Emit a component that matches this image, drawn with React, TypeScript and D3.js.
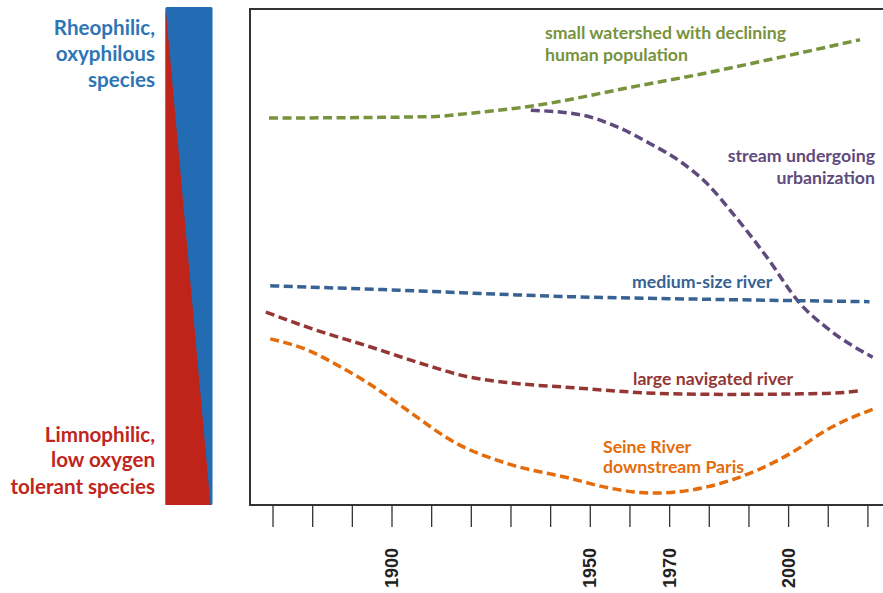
import React from "react";
import * as d3 from "d3";

// ---- data ----
const tickYears = [1870, 1880, 1890, 1900, 1910, 1920, 1930, 1940, 1950, 1960, 1970, 1980, 1990, 2000, 2010, 2020];
const labeledYears = [1900, 1950, 1970, 2000];

const greenYears = [1869, 1910, 1920, 1935, 1962, 1978, 1994, 2018];
const greenVals = [78.0, 78.3, 79.0, 80.4, 84.5, 86.9, 89.6, 93.8];

const purpleYears = [1935, 1948, 1956.6, 1965, 1973.3, 1979.3, 1985.9, 1994.4, 2002.8, 2010.3, 2021.2];
const purpleVals = [79.6, 78.6, 76.3, 72.9, 68.9, 64.9, 58.8, 50.1, 40.7, 35.3, 29.8];

const blueYears = [1869.3, 1902, 1944.8, 1977.6, 2020.4];
const blueVals = [44.2, 43.3, 42.0, 41.5, 41.0];

const redYears = [1868.2, 1878.5, 1895.2, 1908.7, 1918.8, 1928.9, 1944.8, 1967.5, 1984.3, 2009.5, 2017.9];
const redVals = [38.9, 35.9, 31.7, 28.2, 25.9, 24.7, 23.7, 22.5, 22.3, 22.5, 23.0];

const orangeYears = [1869.3, 1878.5, 1886.9, 1895.3, 1903.7, 1916.3, 1928.9, 1944.8, 1954.9, 1965.8, 1979.7, 1992.3, 2001.1, 2009.5, 2021.2];
const orangeVals = [33.5, 31.3, 27.9, 23.9, 19.2, 12.4, 8.4, 5.4, 3.4, 2.4, 3.7, 7.1, 10.7, 15.1, 19.3];

const series = [
  { name: "green", years: greenYears, vals: greenVals, color: "#77933C" },
  { name: "purple", years: purpleYears, vals: purpleVals, color: "#5F4A7D" },
  { name: "blue", years: blueYears, vals: blueVals, color: "#386194" },
  { name: "red", years: redYears, vals: redVals, color: "#943634" },
  { name: "orange", years: orangeYears, vals: orangeVals, color: "#E46C0A" },
];

const W = 883, H = 593;
const plotLeft = 250, plotTop = 9, plotBottom = 505, plotRight = 890;

export default function App() {
  const x = d3.scaleLinear().domain([1900, 2000]).range([392, 788.6]);
  const y = d3.scaleLinear().domain([0, 100]).range([plotBottom, plotTop]);
  const line = d3
    .line<[number, number]>()
    .x((d) => x(d[0]))
    .y((d) => y(d[1]))
    .curve(d3.curveMonotoneX);

  const font = "Lato, 'Open Sans', sans-serif";
  const txt = (s: string, xx: number, yy: number, color: string, anchor: string, size = 17.7) => (
    <text x={xx} y={yy} fill={color} textAnchor={anchor} fontFamily={font} fontWeight={700} fontSize={size}>
      {s}
    </text>
  );

  return (
    <svg width={W} height={H} style={{ position: "absolute", left: 0, top: 0, background: "#fff" }}>
      {/* left gradient bar */}
      <rect x={165.5} y={7} width={47} height={498} fill="#236BB2" rx={1.5} />
      <path d="M165.5,7 L210.5,505 L165.5,505 Z" fill="#BE2419" />

      {txt("Rheophilic,", 155, 35, "#2E75B6", "end", 20.6)}
      {txt("oxyphilous", 155, 61, "#2E75B6", "end", 20.6)}
      {txt("species", 155, 87, "#2E75B6", "end", 20.6)}
      {txt("Limnophilic,", 155, 442, "#C0261C", "end", 20.6)}
      {txt("low oxygen", 155, 467, "#C0261C", "end", 20.6)}
      {txt("tolerant species", 155, 494, "#C0261C", "end", 20.6)}

      {/* plot box */}
      <path
        d={`M${plotRight},${plotTop} L${plotLeft},${plotTop} L${plotLeft},${plotBottom} L${plotRight},${plotBottom}`}
        fill="none"
        stroke="#333"
        strokeWidth={2}
      />

      {/* axis ticks */}
      {tickYears.map((t) => (
        <line key={t} x1={x(t)} x2={x(t)} y1={plotBottom} y2={527} stroke="#333" strokeWidth={1.3} />
      ))}
      {labeledYears.map((t) => (
        <text
          key={t}
          transform={`translate(${x(t)},548) rotate(-90)`}
          textAnchor="end"
          dominantBaseline="central"
          fontFamily="'Liberation Sans', Arial, sans-serif"
          fontWeight={700}
          fontSize={18}
          fill="#222"
        >
          {t}
        </text>
      ))}

      {/* series lines */}
      {series.map((s) => (
        <path
          key={s.name}
          d={line(s.years.map((yr, i) => [yr, s.vals[i]] as [number, number])) || ""}
          fill="none"
          stroke={s.color}
          strokeWidth={3.5}
          strokeDasharray="9 4.5"
        />
      ))}

      {txt("small watershed with declining", 545, 39, "#77933C", "start")}
      {txt("human population", 545, 61, "#77933C", "start")}
      {txt("stream undergoing", 875, 162, "#5F4A7D", "end")}
      {txt("urbanization", 875, 184, "#5F4A7D", "end")}
      {txt("medium-size river", 632, 288, "#386194", "start")}
      {txt("large navigated river", 633, 385, "#943634", "start")}
      {txt("Seine River", 603, 453, "#E46C0A", "start")}
      {txt("downstream Paris", 603, 473, "#E46C0A", "start")}
    </svg>
  );
}
